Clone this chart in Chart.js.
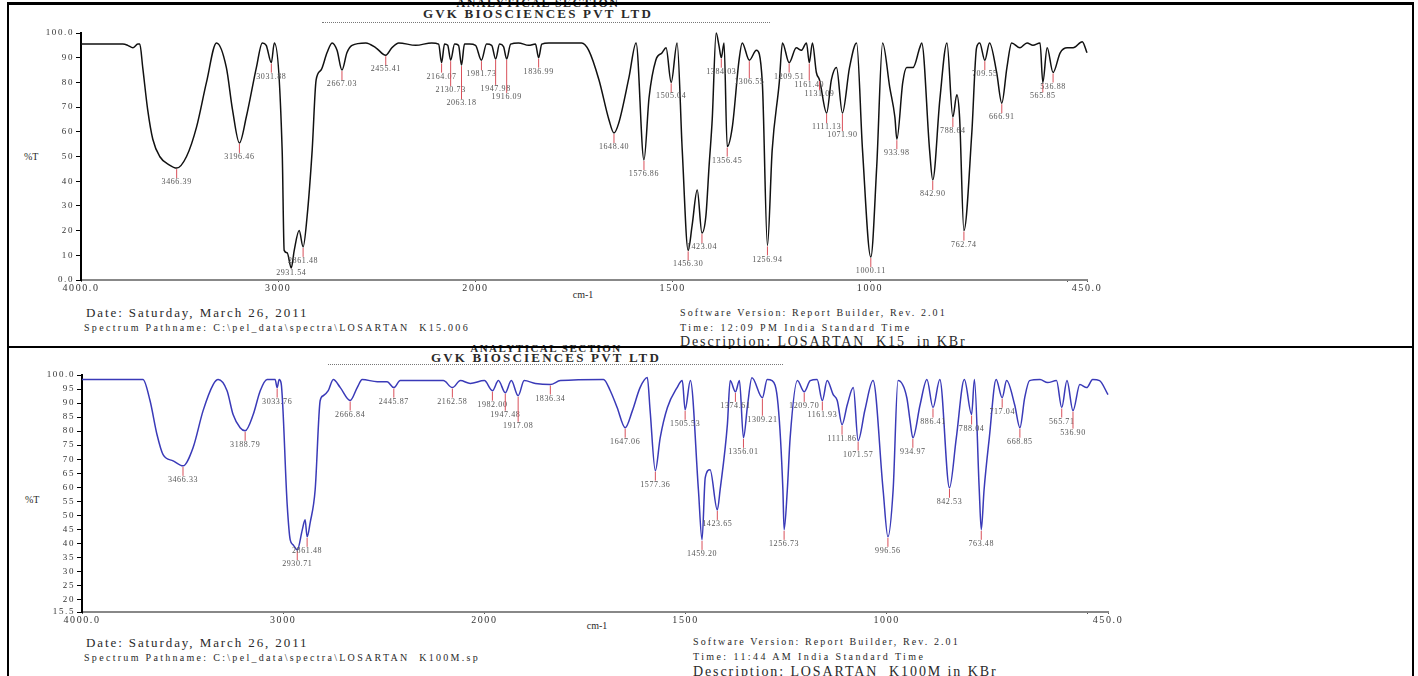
<!DOCTYPE html>
<html>
<head>
<meta charset="utf-8">
<script src="https://cdn.jsdelivr.net/npm/chart.js@4.4.1/dist/chart.umd.min.js"></script>
<style>
  body { margin: 0; width: 1418px; height: 676px; overflow: hidden; background: #fff; position: relative;
         font-family: "Liberation Serif", "DejaVu Serif", serif; color: #2a2a2a; }
  .t { position: absolute; white-space: pre; line-height: 1; }
  .c { transform: translateX(-50%); }
  .frame { position: absolute; left: 7px; top: 2px; width: 1403px; height: 720px; border: 2px solid #000; border-top-width: 3px; z-index: 5; }
  .divider { position: absolute; left: 7px; top: 346px; width: 1407px; height: 2px; background: #000; z-index: 5; }
  .dots { position: absolute; height: 0; border-top: 1px dotted #777; }
  canvas { position: absolute; }
</style>
</head>
<body>
<div class="frame"></div>
<div class="divider"></div>

<!-- top spectrum -->
<div class="t c" style="left:538px;top:-3px;font-size:12px;font-weight:bold;letter-spacing:1.5px;">ANALYTICAL SECTION</div>
<div class="t c" style="left:538px;top:7px;font-size:13px;font-weight:bold;letter-spacing:2.2px;">GVK BIOSCIENCES PVT LTD</div>
<div class="dots" style="left:322px;top:22px;width:448px;"></div>
<div class="t" style="left:24px;top:152px;font-size:10px;">%T</div>
<div class="t c" style="left:583px;top:290px;font-size:10px;">cm-1</div>
<div class="t" style="left:86px;top:306px;font-size:13px;letter-spacing:1.9px;">Date: Saturday, March 26, 2011</div>
<div class="t" style="left:84px;top:323px;font-size:10px;letter-spacing:2.3px;">Spectrum Pathname: C:\pel_data\spectra\LOSARTAN  K15.006</div>
<div class="t" style="left:680px;top:308px;font-size:10px;letter-spacing:2.1px;">Software Version: Report Builder, Rev. 2.01</div>
<div class="t" style="left:680px;top:323px;font-size:10px;letter-spacing:2.4px;">Time: 12:09 PM India Standard Time</div>
<div class="t" style="left:680px;top:335px;font-size:14px;letter-spacing:1.9px;">Description: LOSARTAN  K15  in KBr</div>
<canvas id="topChart" width="1120" height="290" style="left:0;top:20px;"></canvas>

<!-- bottom spectrum -->
<div class="t c" style="left:546px;top:343px;font-size:11px;font-weight:bold;letter-spacing:1.5px;">ANALYTICAL SECTION</div>
<div class="t c" style="left:546px;top:351px;font-size:13px;font-weight:bold;letter-spacing:2.2px;">GVK BIOSCIENCES PVT LTD</div>
<div class="dots" style="left:328px;top:364px;width:455px;"></div>
<div class="t" style="left:25px;top:495px;font-size:10px;">%T</div>
<div class="t c" style="left:597px;top:621px;font-size:10px;">cm-1</div>
<div class="t" style="left:86px;top:636px;font-size:13px;letter-spacing:1.9px;">Date: Saturday, March 26, 2011</div>
<div class="t" style="left:84px;top:653px;font-size:10px;letter-spacing:2.3px;">Spectrum Pathname: C:\pel_data\spectra\LOSARTAN  K100M.sp</div>
<div class="t" style="left:693px;top:637px;font-size:10px;letter-spacing:2.1px;">Software Version: Report Builder, Rev. 2.01</div>
<div class="t" style="left:693px;top:652px;font-size:10px;letter-spacing:2.4px;">Time: 11:44 AM India Standard Time</div>
<div class="t" style="left:693px;top:665px;font-size:14px;letter-spacing:1.9px;">Description: LOSARTAN  K100M in KBr</div>
<canvas id="bottomChart" width="1140" height="290" style="left:0;top:355px;"></canvas>

<script>
// x axis (cm-1), expanded 2x below 2000
const xTickValues = [4000, 3000, 2000, 1500, 1000, 500, 450];
const xTickLabels = ['4000.0', '3000', '2000', '1500', '1000', '', '450.0'];

const topYLabels = ['0.0', '5', '10', '15', '20', '25', '30', '35', '40', '45', '50',
  '55', '60', '65', '70', '75', '80', '85', '90', '95', '100.0'];
const bottomYLabels = ['15.5', '20', '25', '30', '35', '40', '45', '50', '55', '60',
  '65', '70', '75', '80', '85', '90', '95', '100.0'];

// LOSARTAN K15
const topWn = [4000, 3788, 3763, 3737, 3712, 3702, 3687, 3662, 3636, 3601, 3551, 3515, 3465, 3414, 3364,
  3313, 3263, 3232, 3197, 3162, 3111, 3081, 3061, 3035, 3020, 2980, 2970, 2955, 2934, 2919, 2894, 2874,
  2854, 2828, 2808, 2783, 2753, 2727, 2702, 2677, 2652, 2626, 2556, 2505, 2455, 2424, 2389, 2303, 2222,
  2187, 2172, 2157, 2141, 2126, 2106, 2086, 2071, 2056, 2030, 2000, 1985, 1972, 1959, 1949, 1939, 1929,
  1921, 1911, 1891, 1865, 1848, 1840, 1832, 1814, 1731, 1713, 1687, 1662, 1649, 1637, 1611, 1593, 1573,
  1560, 1543, 1527, 1517, 1504, 1489, 1476, 1461, 1451, 1438, 1426, 1416, 1408, 1400, 1390, 1383, 1377,
  1370, 1362, 1349, 1332, 1324, 1306, 1288, 1273, 1260, 1248, 1230, 1222, 1205, 1187, 1174, 1161, 1154,
  1146, 1136, 1128, 1110, 1098, 1085, 1070, 1052, 1034, 1019, 998, 983, 968, 950, 937, 932, 917, 907,
  891, 874, 869, 849, 841, 823, 805, 790, 780, 773, 762, 742, 730, 722, 709, 697, 679, 666, 653, 641,
  620, 602, 587, 569, 562, 551, 536, 518, 500, 485, 462, 450];
const topT = [95.5, 95.5, 95, 94, 95.5, 95.5, 86, 69, 57, 50, 46.5, 45.3, 50, 62, 80,
  96, 86, 69, 55.5, 66, 86, 96, 95, 88, 96, 52, 12, 11, 4.9, 12, 20, 13.4,
  25.5, 52.6, 81, 85, 92, 96, 93, 85, 92, 95, 96, 94, 91, 94, 96, 95, 96,
  95.5, 88, 95.5, 95, 89, 95.5, 95, 87, 95.5, 95.5, 95, 89, 95.5, 95, 89.5, 95.5, 94.5,
  89.5, 95.5, 96, 95, 95.5, 90, 95.5, 96, 96, 93, 81, 65, 59.5, 63.5, 82, 96, 48.6,
  74, 89, 92, 94, 80, 96, 52.6, 12, 22, 36.4, 19, 26, 46, 65, 100, 95, 90,
  96, 54, 62, 89, 96, 89, 93, 80, 14, 52.6, 80, 96, 88, 94, 93, 96, 88,
  96, 84, 81, 67.6, 81, 86, 67.6, 86, 96, 52.6, 9.3, 46, 96, 78, 66, 57, 80, 86,
  86, 94, 96, 52.6, 40.5, 73, 96, 66, 75, 66, 20, 59.5, 94, 96, 89, 96, 84, 71.6, 86, 96,
  94, 96, 95, 96, 80, 94, 84, 92, 94, 94, 96.5, 92];
const topPeakWn = [3515, 3197, 3035, 2934, 2874, 2677, 2455, 2172, 2126, 2071, 1985, 1949, 1921, 1840,
  1649, 1573, 1504, 1461, 1426, 1377, 1362, 1306, 1260, 1205, 1154, 1128, 1110, 1070, 998, 932, 841,
  790, 762, 709, 666, 562, 536];
const topPeakLabels = ['3466.39', '3196.46', '3031.88', '2931.54', '2861.48', '2667.03', '2455.41',
  '2164.07', '2130.73', '2063.18', '1981.73', '1947.98', '1916.09', '1836.99', '1648.40', '1576.86',
  '1505.04', '1456.30', '1423.04', '1384.03', '1356.45', '1306.55', '1256.94', '1209.51', '1161.40',
  '1131.09', '1111.13', '1071.90', '1000.11', '933.98', '842.90', '788.64', '762.74', '709.55',
  '666.91', '565.85', '536.88'];

// LOSARTAN K100M
const bottomWn = [4000, 3697, 3662, 3627, 3597, 3547, 3498, 3448, 3398, 3348, 3323, 3279, 3249, 3214,
  3189, 3149, 3114, 3080, 3040, 3030, 3020, 3010, 2980, 2965, 2950, 2930, 2905, 2891, 2881, 2866, 2841,
  2816, 2801, 2776, 2751, 2716, 2667, 2632, 2607, 2532, 2483, 2450, 2418, 2294, 2204, 2159, 2119, 2070,
  2000, 1980, 1965, 1948, 1933, 1916, 1901, 1873, 1836, 1811, 1704, 1687, 1670, 1650, 1632, 1613, 1595,
  1588, 1575, 1563, 1545, 1521, 1508, 1501, 1488, 1468, 1459, 1451, 1439, 1421, 1414, 1396, 1389, 1376,
  1366, 1356, 1346, 1335, 1309, 1297, 1285, 1270, 1258, 1255, 1247, 1240, 1222, 1205, 1190, 1173, 1160,
  1148, 1133, 1123, 1111, 1098, 1083, 1071, 1054, 1034, 1009, 997, 984, 972, 950, 942, 935, 917, 900,
  885, 868, 844, 827, 807, 789, 782, 770, 765, 758, 745, 728, 713, 702, 682, 669, 657, 645, 619, 600,
  578, 565, 552, 537, 520, 503, 488, 471, 450];
const bottomT = [98.4, 98.4, 90.9, 78.7, 71.6, 69.4, 67.6, 74.1, 87.3, 96.6, 98.4, 94.4, 85.9, 81.2,
  80.1, 85.9, 94.4, 98.4, 98.4, 95.5, 98.4, 97, 53.7, 41.2, 39.4, 37.6, 44.8, 48.4, 42.3, 47.3, 59.1,
  90.9, 92.6, 94.4, 98.4, 95.5, 90.9, 95.5, 98.4, 97.6, 97.6, 95.5, 98, 98, 98, 95.5, 98, 97,
  98, 94.4, 98, 93.7, 98, 92.6, 98, 97, 96.6, 98, 98.4, 94.4, 88.4, 81.2, 87.3, 95.5, 99.1,
  87.3, 65.9, 77.6, 88.4, 95.5, 98, 87.6, 98, 59.1, 41.2, 63.4, 66.2, 51.9, 59.1, 82.3, 98, 94,
  98, 77.6, 89, 99, 91.9, 98.4, 98, 89.4, 59.1, 44.8, 59.1, 77.6, 98, 94, 98, 98.4, 90.9,
  98, 93, 90.9, 82.3, 89.4, 95.5, 76.6, 87.6, 98, 59.1, 42.3, 59.1, 98, 91.9, 83.7, 77.6, 89.4, 98.4,
  88.4, 98.4, 59.8, 77.6, 98.4, 85.9, 98.4, 59.1, 44.8, 59.1, 77.6, 98.4, 91.9, 98, 89.4, 81.2, 91.9, 98, 98.4, 97.3,
  98, 88.4, 98, 87.3, 96.6, 95.5, 98.4, 98, 93];
const bottomPeakWn = [3498, 3189, 3030, 2930, 2881, 2667, 2450, 2159, 1980, 1948, 1916, 1836, 1650, 1575,
  1501, 1459, 1421, 1376, 1356, 1309, 1255, 1205, 1160, 1111, 1071, 997, 935, 885, 844, 789, 765, 713,
  669, 565, 537];
const bottomPeakLabels = ['3466.33', '3188.79', '3033.76', '2930.71', '2861.48', '2666.84', '2445.87',
  '2162.58', '1982.00', '1947.48', '1917.08', '1836.34', '1647.06', '1577.36', '1505.53', '1459.20',
  '1423.65', '1374.61', '1356.01', '1309.21', '1256.73', '1209.70', '1161.93', '1111.86', '1071.57',
  '996.56', '934.97', '886.41', '842.53', '788.04', '763.48', '717.04', '668.85', '565.71', '536.90'];

// share of the axis width used by 4000-2000 (the part below 2000 is drawn at twice the scale)
const SPLIT = 2000 / (2000 + 2 * 1550);

class WavenumberScale extends Chart.LinearScale {
  buildTicks() {
    return xTickValues.map(v => ({ value: v }));
  }
  frac(v) {
    if (v >= 2000) return (4000 - v) / 2000 * SPLIT;
    return SPLIT + (2000 - v) / 1550 * (1 - SPLIT);
  }
  getPixelForValue(v) {
    return this.left + this.frac(v) * this.width;
  }
  getValueForPixel(p) {
    const f = (p - this.left) / this.width;
    if (f <= SPLIT) return 4000 - f / SPLIT * 2000;
    return 2000 - (f - SPLIT) / (1 - SPLIT) * 1550;
  }
}
WavenumberScale.id = 'wavenumber';
Chart.register(WavenumberScale);

const FONT = '"Liberation Serif", serif';

// wide, spread-out tick lettering like the printout
const spacedText = {
  id: 'spacedText',
  beforeDraw(chart) {
    if ('letterSpacing' in chart.ctx) chart.ctx.letterSpacing = '1.6px';
  }
};

function peakMarks(peakWn, peakLabels, wn, t) {
  return {
    id: 'peakMarks',
    afterDatasetsDraw(chart) {
      const { ctx, chartArea } = chart;
      const xs = chart.scales.x, ys = chart.scales.y;
      ctx.save();
      ctx.font = '8px ' + FONT;
      if ('letterSpacing' in ctx) ctx.letterSpacing = '0.6px';
      ctx.textAlign = 'center';
      ctx.textBaseline = 'middle';
      const placed = [];
      peakWn.forEach((w, i) => {
        const k = wn.indexOf(w);
        const px = xs.getPixelForValue(w);
        const py = ys.getPixelForValue(t[k]);
        const text = peakLabels[i];
        const half = ctx.measureText(text).width / 2 + 1;
        let ly = Math.min(py + 14, chartArea.bottom - 7);
        let n = 0;
        while (n < 6 && placed.some(b => Math.abs(b.x - px) < b.half + half && Math.abs(b.y - ly) < 8)) {
          ly += 8;
          n++;
        }
        placed.push({ x: px, y: ly, half });
        if (ly - 4 > py + 1) {
          ctx.strokeStyle = '#d9505a';
          ctx.lineWidth = 1;
          ctx.beginPath();
          ctx.moveTo(px, py + 1);
          ctx.lineTo(px, ly - 4);
          ctx.stroke();
        }
        ctx.fillStyle = '#555';
        ctx.fillText(text, px, ly);
      });
      ctx.restore();
    }
  };
}

function makeChart(id, wn, t, yLabels, color, peakWn, peakLabels, padding, yWidth) {
  const yValues = yLabels.map(Number);
  return new Chart(document.getElementById(id), {
    type: 'line',
    data: {
      datasets: [{
        data: wn.map((w, i) => ({ x: w, y: t[i] })),
        borderColor: color,
        borderWidth: 1.5,
        pointRadius: 0,
        cubicInterpolationMode: 'monotone',
        fill: false,
        clip: false
      }]
    },
    options: {
      responsive: false,
      animation: false,
      devicePixelRatio: 1,
      layout: { padding },
      plugins: { legend: { display: false }, tooltip: { enabled: false } },
      scales: {
        x: {
          type: 'wavenumber',
          min: 450,
          max: 4000,
          afterFit: s => { s.height = 20; s.paddingLeft = 0; s.paddingRight = 0; },
          grid: { drawOnChartArea: false, tickLength: 2, color: '#555' },
          border: { color: '#888', width: 2 },
          ticks: {
            autoSkip: false, maxRotation: 0, padding: 0, color: '#333',
            font: { family: FONT, size: 10 },
            callback: (v, i) => xTickLabels[i]
          }
        },
        y: {
          min: yValues[0],
          max: 100,
          afterBuildTicks: s => { s.ticks = yValues.map(v => ({ value: v })); },
          afterFit: s => { s.width = yWidth; s.paddingTop = 0; s.paddingBottom = 0; },
          grid: { drawOnChartArea: false, tickLength: 5, color: '#000' },
          border: { color: '#000', width: 2 },
          ticks: {
            padding: 2, color: '#333',
            font: { family: FONT, size: 9 },
            callback: (v, i) => yLabels[i]
          }
        }
      }
    },
    plugins: [spacedText, peakMarks(peakWn, peakLabels, wn, t)]
  });
}

makeChart('topChart', topWn, topT, topYLabels, '#111', topPeakWn, topPeakLabels,
  { top: 13, right: 33, bottom: 10, left: 0 }, 81);
makeChart('bottomChart', bottomWn, bottomT, bottomYLabels, '#3a3ab8', bottomPeakWn, bottomPeakLabels,
  { top: 20, right: 32, bottom: 13, left: 0 }, 82);
</script>
</body>
</html>
